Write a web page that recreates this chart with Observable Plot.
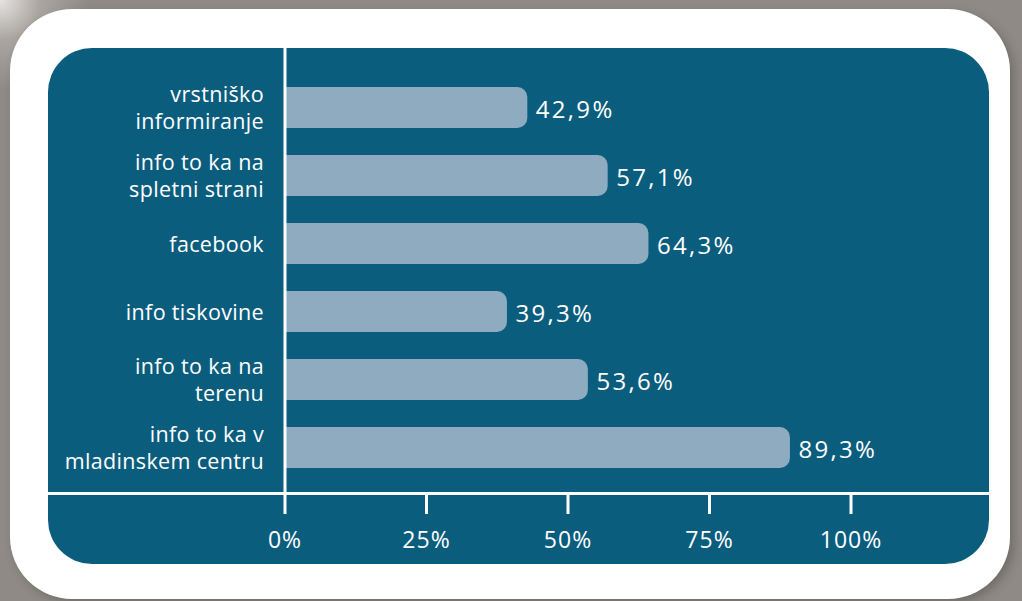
<!DOCTYPE html>
<html>
<head>
<meta charset="utf-8">
<script src="https://cdn.jsdelivr.net/npm/d3@7"></script>
<script src="https://cdn.jsdelivr.net/npm/@observablehq/plot@0.6"></script>
<style>
  html, body { margin: 0; padding: 0; width: 1022px; height: 601px; overflow: hidden; }
  body {
    background: radial-gradient(circle at 0 0, #e6e4e2 0px, #aaa5a1 40px, #8f8a86 90px, #8f8a86 100%);
    position: relative;
    font-family: "Open Sans", Lato, sans-serif;
  }
  #white {
    position: absolute; left: 10px; top: 9px; width: 1000px; height: 590px;
    background: #ffffff; border-radius: 62px;
    box-shadow: 4px 4px 10px rgba(60,55,50,0.35);
  }
  #teal {
    position: absolute; left: 48px; top: 48px; width: 941px; height: 516px;
    background: #0b5d7e; border-radius: 44px;
  }
  #chart { position: absolute; left: 0; top: 0; }
</style>
</head>
<body>
<div id="white"></div>
<div id="teal"></div>
<div id="chart"></div>
<script>
const categories = [
  "vrstniško\ninformiranje",
  "info to ka na\nspletni strani",
  "facebook",
  "info tiskovine",
  "info to ka na\nterenu",
  "info to ka v\nmladinskem centru"
];
const values = [42.9, 57.1, 64.3, 39.3, 53.6, 89.3];
const tickValues = [0, 25, 50, 75, 100];

const data = categories.map((c, i) => ({category: c, value: values[i]}));
const fmt = v => v.toFixed(1).replace(".", ",") + "%";

const barColor = "#8eabbf";
const font = "'Open Sans', Lato, sans-serif";

const chart = Plot.plot({
  width: 1022,
  height: 601,
  marginLeft: 284.5,
  marginRight: 171.5,
  marginTop: 48,
  marginBottom: 108,
  style: {background: "transparent", fontFamily: font, overflow: "visible"},
  x: {domain: [0, 100], axis: null},
  y: {domain: categories, range: [71.7, 483.3], paddingInner: 0.39, paddingOuter: 0.195, axis: null},
  marks: [
    Plot.barX(data, {x1: 0, x2: "value", y: "category", fill: barColor, rx: 10}),
    Plot.barX(data, {x1: 0, x2: d => d.value / 2, y: "category", fill: barColor}),
    Plot.text(data, {
      x: "value", y: "category", text: d => fmt(d.value),
      textAnchor: "start", dx: 8, dy: 2, fill: "white", fontSize: 24
    }),
    Plot.text(data, {
      x: 0, y: "category", text: "category",
      textAnchor: "end", dx: -21, dy: -1, fill: "white", fontSize: 21.5, lineHeight: 1.26
    }),
    Plot.frame({anchor: "bottom", stroke: "white", strokeWidth: 3, insetLeft: -236.5, insetRight: -138.5}),
    Plot.ruleX([0], {stroke: "white", strokeWidth: 3}),
    Plot.axisX({
      ticks: tickValues, tickFormat: d => d + "%", tickSize: 21, tickPadding: 17, label: null,
      stroke: "white", strokeWidth: 3, strokeOpacity: 1, fill: "white", fontSize: 23
    })
  ]
});
// letter spacing for text groups (value labels, category labels, tick labels)
const textGroups = chart.querySelectorAll('g[aria-label="text"]');
if (textGroups[0]) textGroups[0].style.letterSpacing = "2.3px";
if (textGroups[1]) textGroups[1].style.letterSpacing = "0.35px";
chart.querySelectorAll('g[aria-label="x-axis tick label"]').forEach(g => g.style.letterSpacing = "1px");
document.getElementById("chart").appendChild(chart);
</script>
</body>
</html>
